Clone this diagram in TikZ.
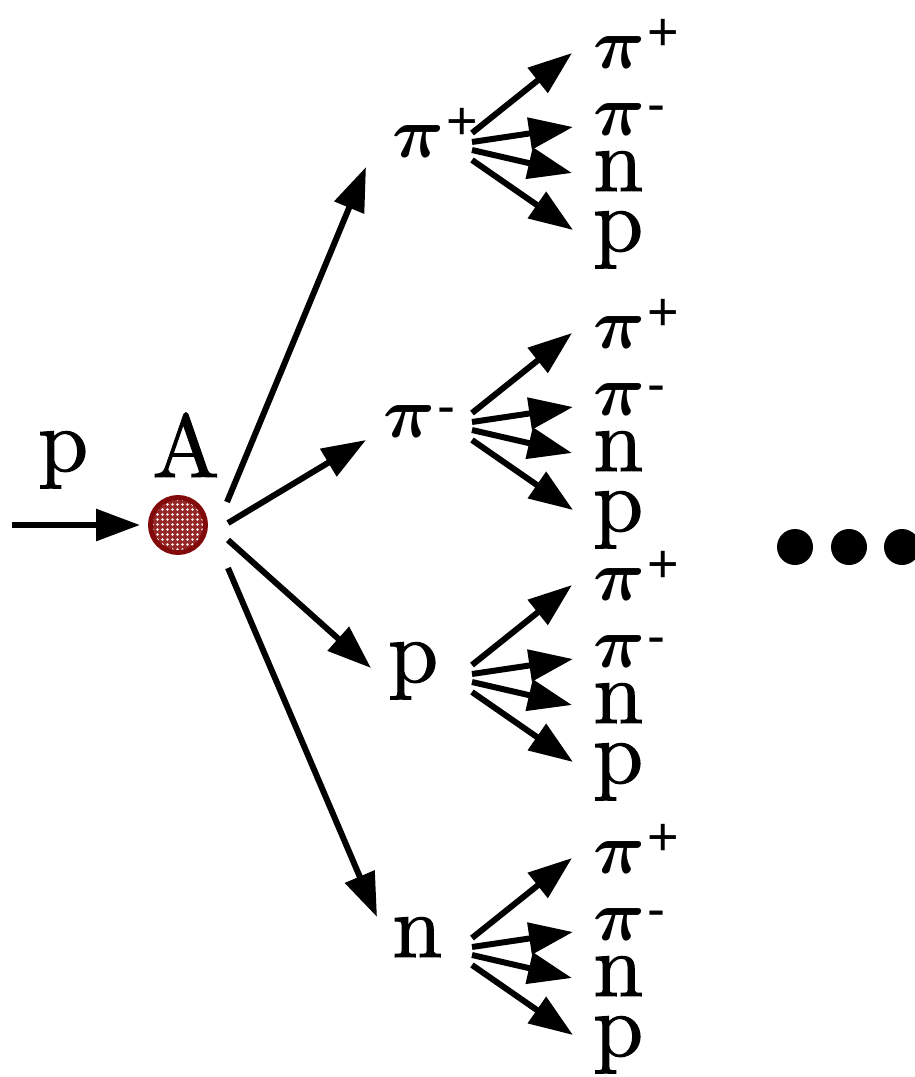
\documentclass[tikz,border=0pt]{standalone}
\usepackage{fontspec}
\usepackage{graphicx}
\newfontfamily\arl{Liberation Sans}
\newfontfamily\heavy{lmroman10-regular.otf}[FakeBold=1.1]
\usetikzlibrary{arrows.meta,patterns}
\pgfdeclarepatternformonly{whitedots}{\pgfqpoint{-1pt}{-1pt}}{\pgfqpoint{6pt}{6pt}}{\pgfqpoint{5pt}{5pt}}{\pgfpathcircle{\pgfqpoint{2.5pt}{2.5pt}}{1.4pt}\pgfusepath{fill}}
\definecolor{ringred}{RGB}{130,10,10}
\definecolor{dotred}{RGB}{150,40,40}
\newcommand{\bigfont}{\heavy\fontsize{90}{90}\selectfont}
\newcommand{\supfont}{\arl\fontsize{54}{54}\selectfont}
\newcommand{\pisym}{\scalebox{7.2}{\normalsize\boldmath$\pi$}}
\newcommand{\piplus}{\pisym\kern2pt\raisebox{18pt}{\supfont +}}
\newcommand{\piminus}{\pisym\kern2pt\raisebox{13pt}{\supfont -}}
\begin{document}
\begin{tikzpicture}[x=1pt,y=-1pt,
  lbl/.style={inner sep=0pt, anchor=base west, font=\bigfont},
  arr/.style={line width=6pt, -{Triangle[length=44pt,width=31pt]}},
  bullet/.style={circle, fill=black, inner sep=0pt, minimum size=36pt}
]
\useasboundingbox (0,0) rectangle (915,1077);

% incoming particle and nucleus
\node[lbl] (pin) at (38,471) {p};
\node[lbl] (lA) at (152,477) {A};
\node[circle, minimum size=55pt, inner sep=0pt, draw=ringred, line width=5pt,
      preaction={fill=dotred}, pattern=whitedots, pattern color=white] (nuc) at (178,525) {};
\coordinate (src) at (12,525);
\draw[arr, shorten >=8pt] (src) -- (nuc.west);

% first generation
\node[lbl] (L1) at (392,157) {\piplus};
\node[lbl] (L2) at (383,437) {\piminus};
\node[lbl] (L3) at (388,682) {p};
\node[lbl] (L4) at (392,957) {n};

\coordinate (s1) at (227,502); \coordinate (t1) at (366,167);
\coordinate (s2) at (228,523); \coordinate (t2) at (366,440);
\coordinate (s3) at (228,540); \coordinate (t3) at (371,668);
\coordinate (s4) at (228,568); \coordinate (t4) at (377,917);
\draw[arr] (s1) -- (t1);
\draw[arr] (s2) -- (t2);
\draw[arr] (s3) -- (t3);
\draw[arr] (s4) -- (t4);

% second generation
\foreach \i/\y in {1/133,2/413,3/665,4/938}{
  \coordinate (f\i a) at (472,\y);
  \coordinate (f\i b) at (472,\y+9);
  \coordinate (f\i c) at (472,\y+17);
  \coordinate (f\i d) at (472,\y+27);
  \coordinate (e\i a) at (572,\y-80);
  \coordinate (e\i b) at (573,\y-6);
  \coordinate (e\i c) at (572,\y+40);
  \coordinate (e\i d) at (573,\y+97);
  \node[lbl] (g\i a) at (593,\y-65) {\piplus};
  \node[lbl] (g\i b) at (593,\y+2) {\piminus};
  \node[lbl] (g\i c) at (593,\y+58) {n};
  \node[lbl] (g\i d) at (593,\y+118) {p};
  \draw[arr] (f\i a) -- (e\i a);
  \draw[arr] (f\i b) -- (e\i b);
  \draw[arr] (f\i c) -- (e\i c);
  \draw[arr] (f\i d) -- (e\i d);
}

% ellipsis
\node[bullet] (d1) at (795,547) {};
\node[bullet] (d2) at (849,547) {};
\node[bullet] (d3) at (902,547) {};
\end{tikzpicture}
\end{document}
